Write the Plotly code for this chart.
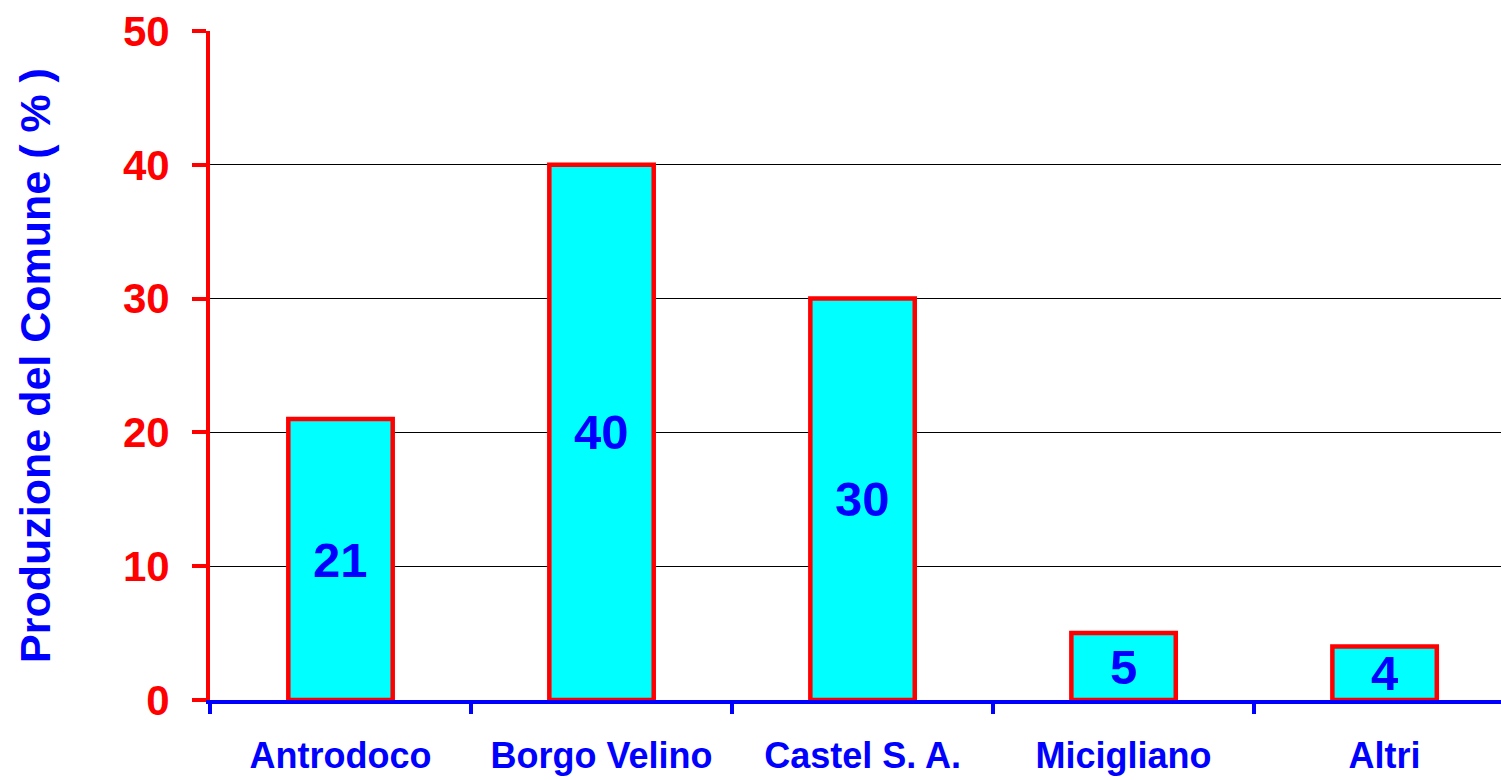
import plotly.graph_objects as go

# Production share by municipality (%)
comuni = ["Antrodoco", "Borgo Velino", "Castel S. A.", "Micigliano", "Altri"]
produzione = [21, 40, 30, 5, 4]
y_ticks = [0, 10, 20, 30, 40, 50]

FONT = "Liberation Sans, Arial, sans-serif"
RED = "#FF0000"
BLUE = "#0000FF"
CYAN = "#00FFFF"

fig = go.Figure()
fig.add_trace(go.Bar(
    x=comuni,
    y=produzione,
    width=0.4,
    marker=dict(color=CYAN, line=dict(color=RED, width=4.5)),
    hoverinfo="skip",
))

# value labels centred inside each bar
for c, v in zip(comuni, produzione):
    fig.add_annotation(
        x=c, y=v / 2, xref="x", yref="y",
        text=str(v), showarrow=False,
        font=dict(family=FONT, size=49, color=BLUE, weight="bold"),
        xanchor="center", yanchor="middle",
    )

fig.update_layout(
    width=1501, height=780,
    margin=dict(l=210, r=0, t=31, b=80),
    paper_bgcolor="white",
    plot_bgcolor="white",
    showlegend=False,
    bargap=0.6,
)

fig.update_xaxes(
    type="category",
    range=[-0.5, 4.446],
    showline=True, linecolor=BLUE, linewidth=4,
    ticks="outside", tickson="boundaries", ticklen=10, tickwidth=4, tickcolor=BLUE,
    tickfont=dict(family=FONT, size=36, color=BLUE, weight="bold"),
    ticklabelstandoff=21,
    showgrid=False, zeroline=False,
)

fig.update_yaxes(
    range=[0, 50],
    tickvals=y_ticks,
    showline=True, linecolor=RED, linewidth=4,
    ticks="outside", ticklen=14, tickwidth=4, tickcolor=RED,
    tickfont=dict(family=FONT, size=42, color=RED, weight="bold"),
    ticklabelstandoff=14,
    showgrid=True, gridcolor="black", gridwidth=1,
    zeroline=False,
    title=dict(
        text="Produzione del Comune ( % )",
        font=dict(family=FONT, size=43, color=BLUE, weight="bold"),
        standoff=60,
    ),
    automargin=False,
)

fig.write_html("out.html")
